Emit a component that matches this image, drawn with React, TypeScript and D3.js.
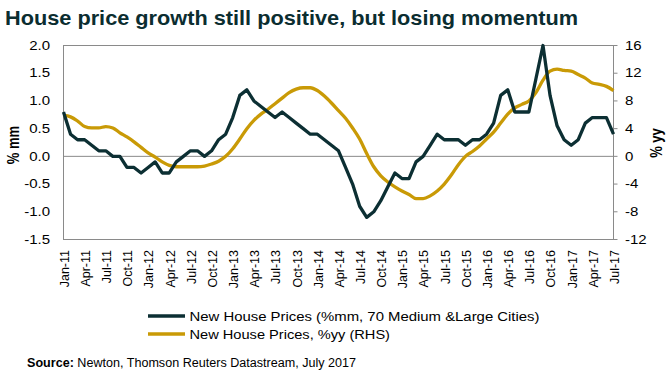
import React from "react";
import * as d3 from "d3";

const title = "House price growth still positive, but losing momentum";
const seriesMmName = "New House Prices (%mm, 70 Medium &Large Cities)";
const seriesYyName = "New House Prices, %yy (RHS)";

const xTickLabels = [
  "Jan-11", "Apr-11", "Jul-11", "Oct-11", "Jan-12", "Apr-12", "Jul-12", "Oct-12",
  "Jan-13", "Apr-13", "Jul-13", "Oct-13", "Jan-14", "Apr-14", "Jul-14", "Oct-14",
  "Jan-15", "Apr-15", "Jul-15", "Oct-15", "Jan-16", "Apr-16", "Jul-16", "Oct-16",
  "Jan-17", "Apr-17", "Jul-17",
];

const leftTicks = [2.0, 1.5, 1.0, 0.5, 0.0, -0.5, -1.0, -1.5];
const rightTicks = [16, 12, 8, 4, 0, -4, -8, -12];

// monthly, Jan-11 .. Jul-17
const mmValues = [
  0.8, 0.4, 0.3, 0.3, 0.2, 0.1, 0.1, 0.0, 0.0, -0.2, -0.2, -0.3,
  -0.2, -0.1, -0.3, -0.3, -0.1, 0.0, 0.1, 0.1, 0.0, 0.1, 0.3, 0.4,
  0.7, 1.1, 1.2, 1.0, 0.9, 0.8, 0.7, 0.8, 0.7, 0.6, 0.5, 0.4,
  0.4, 0.3, 0.2, 0.1, -0.2, -0.5, -0.9, -1.1, -1.0, -0.8, -0.55, -0.3,
  -0.4, -0.4, -0.1, 0.0, 0.2, 0.4, 0.3, 0.3, 0.3, 0.2, 0.3, 0.3,
  0.4, 0.6, 1.1, 1.2, 0.8, 0.8, 0.8, 1.4, 2.0, 1.1, 0.55, 0.3,
  0.2, 0.3, 0.6, 0.7, 0.7, 0.7, 0.4,
];

const yyValues = [
  5.9, 5.7, 5.1, 4.3, 4.1, 4.1, 4.3, 4.1, 3.4, 2.8, 2.1, 1.3,
  0.5, -0.1, -0.8, -1.3, -1.5, -1.5, -1.5, -1.5, -1.4, -1.1, -0.7, 0.0,
  1.1, 2.5, 4.0, 5.2, 6.1, 6.8, 7.6, 8.4, 9.2, 9.7, 9.9, 9.9,
  9.5, 8.7, 7.7, 6.6, 5.5, 4.1, 2.5, 0.4, -1.5, -2.8, -3.7, -4.4,
  -5.0, -5.5, -6.1, -6.1, -5.7, -5.0, -4.0, -2.7, -1.2, 0.0, 0.7, 1.5,
  2.5, 3.5, 4.8, 6.1, 7.0, 7.5, 8.0, 9.2, 11.0, 12.3, 12.6, 12.4,
  12.3, 11.8, 11.3, 10.6, 10.4, 10.1, 9.5,
];

const DARK = "#0c2f33";
const GOLD = "#c99a06";
const GRID = "#8a8a8a";
const FONT = "'Liberation Sans', Arial, sans-serif";

export default function App() {
  const W = 668;
  const H = 377;
  const left = 63.5;
  const right = 613.5;
  const top = 45.5;
  const bottom = 239.5;

  const x = d3.scaleLinear().domain([0, mmValues.length - 1]).range([left, right]);
  const yL = d3.scaleLinear().domain([-1.5, 2]).range([bottom, top]);
  const yR = d3.scaleLinear().domain([-12, 16]).range([bottom, top]);

  const lineMm = d3
    .line<number>()
    .x((_, i) => x(i))
    .y((d) => yL(d))
    .curve(d3.curveLinear);
  const lineYy = d3
    .line<number>()
    .x((_, i) => x(i))
    .y((d) => yR(d))
    .curve(d3.curveMonotoneX);

  const tickStretch = 1.25;

  return (
    <svg
      width={W}
      height={H}
      style={{ position: "absolute", left: 0, top: 0, background: "#fff" }}
      fontFamily={FONT}
    >
      <text
        x={5}
        y={25}
        fontSize={21}
        fontWeight="bold"
        fill="#0b2d30"
        textLength={573}
        lengthAdjust="spacingAndGlyphs"
      >
        {title}
      </text>

      {/* plot frame */}
      <rect x={left} y={top} width={right - left} height={bottom - top} fill="none" stroke={GRID} strokeWidth={1} />
      <line x1={left} x2={right} y1={yL(0)} y2={yL(0)} stroke={GRID} strokeWidth={1} />

      {/* right axis ticks */}
      {rightTicks.map((t) => (
        <line key={"rt" + t} x1={right} x2={right + 4} y1={yR(t)} y2={yR(t)} stroke={GRID} strokeWidth={1} />
      ))}

      {/* left tick labels */}
      {leftTicks.map((t) => (
        <text
          key={"l" + t}
          transform={`translate(50,${yL(t)}) scale(${tickStretch},1)`}
          textAnchor="end"
          dy="0.35em"
          fontSize={12}
          fill="#000"
        >
          {t.toFixed(1)}
        </text>
      ))}

      {/* right tick labels */}
      {rightTicks.map((t) => (
        <text
          key={"r" + t}
          transform={`translate(625,${yR(t)}) scale(${tickStretch},1)`}
          textAnchor="start"
          dy="0.35em"
          fontSize={12}
          fill="#000"
        >
          {t}
        </text>
      ))}

      {/* axis titles */}
      <text
        transform={`translate(13,145) rotate(-90) scale(1,${tickStretch})`}
        textAnchor="middle"
        dy="0.35em"
        fontSize={13}
        fontWeight="bold"
        fill="#000"
      >
        % mm
      </text>
      <text
        transform={`translate(656,143) rotate(-90) scale(1,${tickStretch})`}
        textAnchor="middle"
        dy="0.35em"
        fontSize={13}
        fontWeight="bold"
        fill="#000"
      >
        % yy
      </text>

      {/* x tick labels */}
      {xTickLabels.map((lab, k) => (
        <text
          key={lab}
          transform={`translate(${x(k * 3) + 1},250) rotate(-90)`}
          textAnchor="end"
          dy="0.35em"
          fontSize={12.5}
          fill="#000"
        >
          {lab}
        </text>
      ))}

      {/* lines */}
      <path d={lineYy(yyValues) || ""} fill="none" stroke={GOLD} strokeWidth={3.3} strokeLinejoin="round" />
      <path d={lineMm(mmValues) || ""} fill="none" stroke={DARK} strokeWidth={3.3} strokeLinejoin="round" />

      {/* legend */}
      <line x1={148} x2={185} y1={316} y2={316} stroke={DARK} strokeWidth={3.5} />
      <text x={189.5} y={320.5} fontSize={13} fill="#000" textLength={350} lengthAdjust="spacingAndGlyphs">
        {seriesMmName}
      </text>
      <line x1={148} x2={185} y1={334} y2={334} stroke={GOLD} strokeWidth={3.5} />
      <text x={189.5} y={338.5} fontSize={13} fill="#000" textLength={200.5} lengthAdjust="spacingAndGlyphs">
        {seriesYyName}
      </text>

      {/* source */}
      <text x={27} y={366.5} fontSize={12.5} fill="#000" textLength={329} lengthAdjust="spacingAndGlyphs">
        <tspan fontWeight="bold">Source:</tspan> Newton, Thomson Reuters Datastream, July 2017
      </text>
    </svg>
  );
}
